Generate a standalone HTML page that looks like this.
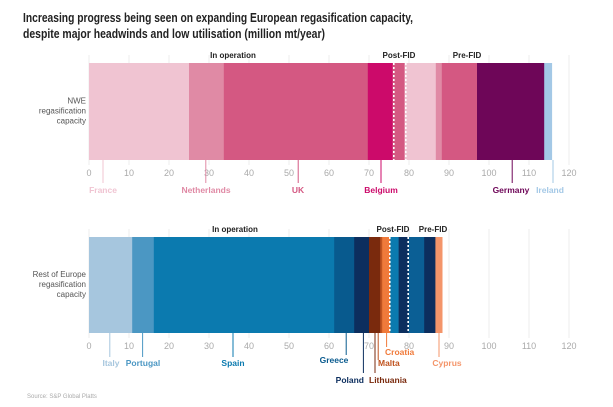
<!DOCTYPE html>
<html><head><meta charset="utf-8"><style>
body{margin:0;background:#fff;font-family:"Liberation Sans",sans-serif}
svg text{font-family:"Liberation Sans",sans-serif}
</style></head><body>
<svg id="c" width="613" height="402">
<text x="23" y="22" font-size="13" font-weight="bold" fill="#222" textLength="390" lengthAdjust="spacingAndGlyphs">Increasing progress being seen on expanding European regasification capacity,</text>
<text x="23" y="38" font-size="13" font-weight="bold" fill="#222" textLength="302" lengthAdjust="spacingAndGlyphs">despite major headwinds and low utilisation (million mt/year)</text>
<text x="27" y="398" font-size="6" fill="#aaa">Source: S&amp;P Global Platts</text>
<g id="g"></g>
</svg>
<script>
const ticks=[0,10,20,30,40,50,60,70,80,90,100,110,120];
const nweNames=["France","Netherlands","UK","Belgium","UK (post-FID)","France (pre-FID)","Netherlands (pre-FID)","UK (pre-FID)","Germany","Ireland"];
const nweValues=[25,8.7,36,6.2,3,7.8,1.5,8.8,16.8,1.9];
const nweColors=["#f0c4d2","#e08aa5","#d45882","#cc0a6a","#d45882","#f0c4d2","#e08aa5","#d45882","#6e0658","#a3c8e6"];
const nweLabels=["France","Netherlands","UK","Belgium","Germany","Ireland"];
const nweLabelAt=[3.5,29.2,52.3,73,105.8,116];
const nweLabelColors=["#f0c4d2","#e08aa5","#d45882","#cc0a6a","#6e0658","#a3c8e6"];
const nweDots=[76.2,79.2];
const roeNames=["Italy","Portugal","Spain","Greece","Poland","Lithuania","Malta","Croatia","Spain (post-FID)","Poland (post-FID)","Greece (pre-FID)","Poland (pre-FID)","Cyprus"];
const roeValues=[10.8,5.4,45.1,5,3.7,2.8,0.5,2,2.1,2.5,3.9,2.8,1.7];
const roeColors=["#a6c6de","#4b97c3","#0b7aaf","#085a8e","#0c2e5e","#7a2a0d","#c0531f","#f07a3a","#0b7aaf","#0c2e5e","#0b5f95","#0c2e5e","#f4956a"];
const roeLabels=["Italy","Portugal","Spain","Greece","Poland","Lithuania","Malta","Croatia","Cyprus"];
const roeLabelAt=[5.2,13.4,36,64.3,68.6,71.5,72.3,74.4,87.5];
const roeLabelColors=["#a6c6de","#4b97c3","#0b7aaf","#085a8e","#0c2e5e","#7a2a0d","#c0531f","#f07a3a","#f4956a"];
const roeDots=[75.2,79.8];
const x=v=>89+v*4;
const g=document.getElementById('g');
const NS="http://www.w3.org/2000/svg";
function mk(t,a){const e=document.createElementNS(NS,t);for(const k in a)e.setAttribute(k,a[k]);g.appendChild(e);return e;}
// label layout (style): [textX, textY, anchor, leaderEndY]
const nweLayout=[[103,193,'middle',183],[206,193,'middle',183],[298,193,'middle',183],[381,193,'middle',183],[511,193,'middle',183],[550,193,'middle',183]];
const roeLayout=[[111,366,'middle',357],[143,366,'middle',357],[233,366,'middle',357],[334,363,'middle',355],[364,383,'end',373],[369,383,'start',373],[378,366,'start',360],[385,355,'start',347],[447,366,'middle',357]];
function panel(top,h,names,vals,cols,labs,labAt,labCols,layout,dots,ylab,phases){
  ticks.forEach(t=>{const l=mk('line',{x1:x(t),x2:x(t),y1:top-8,y2:top+h+5,stroke:'#eee'});
  
  
  const tx=mk('text',{x:x(t),y:top+h+16,'font-size':9,fill:'#aaa','text-anchor':'middle'});tx.textContent=t;
  
  });
  let c=0;
  vals.forEach((v,i)=>{const r=mk('rect',{x:x(c),y:top,width:v*4+0.3,height:h,fill:cols[i]});
  
  c+=v;});
  dots.forEach(d=>{const l=mk('line',{x1:x(d),x2:x(d),y1:top,y2:top+h,stroke:'#fff','stroke-width':1.6,'stroke-dasharray':'2,2'});
  
  });
  labs.forEach((n,i)=>{const L=layout[i];const l=mk('line',{x1:x(labAt[i]),x2:x(labAt[i]),y1:top+h,y2:L[3],stroke:labCols[i]});
  
  
  const tx=mk('text',{x:L[0],y:L[1],'font-size':8.5,'font-weight':'bold',fill:labCols[i],'text-anchor':L[2]});tx.textContent=n;
  
  });
  ylab.forEach((s,i)=>{const tx=mk('text',{x:86,y:top+h/2-8+i*10,'font-size':8,fill:'#555','text-anchor':'end'});tx.textContent=s;
  
  });
  phases.forEach(p=>{const tx=mk('text',{x:x(p[1]),y:top-5,'font-size':8,'font-weight':'bold',fill:'#222','text-anchor':'middle'});tx.textContent=p[0];
  
  });
}
panel(63,97,nweNames,nweValues,nweColors,nweLabels,nweLabelAt,nweLabelColors,nweLayout,nweDots,["NWE","regasification","capacity"],[["In operation",36],["Post-FID",77.5],["Pre-FID",94.5]]);
panel(237,96,roeNames,roeValues,roeColors,roeLabels,roeLabelAt,roeLabelColors,roeLayout,roeDots,["Rest of Europe","regasification","capacity"],[["In operation",36.5],["Post-FID",76],["Pre-FID",86]]);
</script>
</body></html>
